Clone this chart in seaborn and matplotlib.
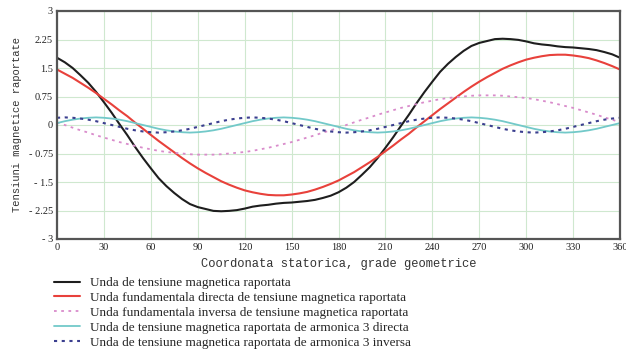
import matplotlib
matplotlib.use("Agg")
import matplotlib.pyplot as plt
import seaborn as sns

# ---- data (every 5 degrees) ----
deg = list(range(0, 361, 5))

total = [1.77, 1.65, 1.50, 1.31, 1.11, 0.87, 0.60, 0.32, 0.02, -0.27, -0.58, -0.87, -1.14,
         -1.40, -1.61, -1.79, -1.95, -2.08, -2.16, -2.21, -2.26, -2.27, -2.26, -2.24, -2.20,
         -2.15, -2.12, -2.10, -2.07, -2.05, -2.04, -2.02, -2.00, -1.97, -1.92, -1.86, -1.77,
         -1.65, -1.50, -1.31, -1.11, -0.87, -0.60, -0.32, -0.02, 0.27, 0.58, 0.87, 1.14,
         1.40, 1.61, 1.79, 1.95, 2.08, 2.16, 2.21, 2.26, 2.27, 2.26, 2.24, 2.20,
         2.15, 2.12, 2.10, 2.07, 2.05, 2.04, 2.02, 2.00, 1.97, 1.92, 1.86, 1.77]

fund_direct = [1.46, 1.35, 1.24, 1.11, 0.98, 0.84, 0.69, 0.54, 0.38, 0.23, 0.06, -0.10, -0.26,
               -0.42, -0.57, -0.72, -0.87, -1.01, -1.14, -1.26, -1.37, -1.48, -1.57, -1.65,
               -1.72, -1.77, -1.81, -1.84, -1.85, -1.85, -1.83, -1.80, -1.76, -1.70, -1.63,
               -1.55, -1.46, -1.35, -1.24, -1.11, -0.98, -0.84, -0.69, -0.54, -0.38, -0.23,
               -0.06, 0.10, 0.26, 0.42, 0.57, 0.72, 0.87, 1.01, 1.14, 1.26, 1.37, 1.48, 1.57,
               1.65, 1.72, 1.77, 1.81, 1.84, 1.85, 1.85, 1.83, 1.80, 1.76, 1.70, 1.63, 1.55, 1.46]

fund_inverse = [0.07, 0.00, -0.07, -0.14, -0.20, -0.27, -0.33, -0.39, -0.45, -0.50, -0.55, -0.60,
                -0.64, -0.68, -0.71, -0.73, -0.75, -0.77, -0.78, -0.78, -0.78, -0.77, -0.75,
                -0.73, -0.71, -0.68, -0.64, -0.60, -0.55, -0.50, -0.45, -0.39, -0.33, -0.27,
                -0.20, -0.14, -0.07, 0.00, 0.07, 0.14, 0.20, 0.27, 0.33, 0.39, 0.45, 0.50, 0.55,
                0.60, 0.64, 0.68, 0.71, 0.73, 0.75, 0.77, 0.78, 0.78, 0.78, 0.77, 0.75, 0.73,
                0.71, 0.68, 0.64, 0.60, 0.55, 0.50, 0.45, 0.39, 0.33, 0.27, 0.20, 0.14, 0.07]

harm3_direct = [0.05, 0.10, 0.14, 0.17, 0.19, 0.20, 0.19, 0.17, 0.14, 0.10, 0.05, 0.00,
                -0.05, -0.10, -0.14, -0.17, -0.19, -0.20, -0.19, -0.17, -0.14, -0.10, -0.05, 0.00,
                0.05, 0.10, 0.14, 0.17, 0.19, 0.20, 0.19, 0.17, 0.14, 0.10, 0.05, 0.00,
                -0.05, -0.10, -0.14, -0.17, -0.19, -0.20, -0.19, -0.17, -0.14, -0.10, -0.05, 0.00,
                0.05, 0.10, 0.14, 0.17, 0.19, 0.20, 0.19, 0.17, 0.14, 0.10, 0.05, 0.00,
                -0.05, -0.10, -0.14, -0.17, -0.19, -0.20, -0.19, -0.17, -0.14, -0.10, -0.05, 0.00,
                0.05]

harm3_inverse = [0.19, 0.20, 0.19, 0.17, 0.14, 0.10, 0.05, 0.00, -0.05, -0.10, -0.14, -0.17,
                 -0.19, -0.20, -0.19, -0.17, -0.14, -0.10, -0.05, 0.00, 0.05, 0.10, 0.14, 0.17,
                 0.19, 0.20, 0.19, 0.17, 0.14, 0.10, 0.05, 0.00, -0.05, -0.10, -0.14, -0.17,
                 -0.19, -0.20, -0.19, -0.17, -0.14, -0.10, -0.05, 0.00, 0.05, 0.10, 0.14, 0.17,
                 0.19, 0.20, 0.19, 0.17, 0.14, 0.10, 0.05, 0.00, -0.05, -0.10, -0.14, -0.17,
                 -0.19, -0.20, -0.19, -0.17, -0.14, -0.10, -0.05, 0.00, 0.05, 0.10, 0.14, 0.17,
                 0.19]

labels = ["Unda de tensiune magnetica raportata",
          "Unda fundamentala directa de tensiune magnetica raportata",
          "Unda fundamentala inversa de tensiune magnetica raportata",
          "Unda de tensiune magnetica raportata de armonica 3 directa",
          "Unda de tensiune magnetica raportata de armonica 3 inversa"]

x_ticks = [0, 30, 60, 90, 120, 150, 180, 210, 240, 270, 300, 330, 360]
y_ticks = [3, 2.25, 1.5, 0.75, 0, -0.75, -1.5, -2.25, -3]
y_tick_labels = ["3", "2.25", "1.5", "0.75", "0", "- 0.75", "- 1.5", "- 2.25", "- 3"]

x_label = "Coordonata statorica, grade geometrice"
y_label = "Tensiuni magnetice raportate"

# ---- styling ----
sns.set_theme(style="white")
plt.rcParams["font.family"] = ["Liberation Serif", "DejaVu Serif"]

fig = plt.figure(figsize=(6.26, 3.56), dpi=100)
ax = fig.add_axes([57 / 626, 1 - 239 / 356, (620 - 57) / 626, (239 - 11) / 356])

series = [total, fund_direct, fund_inverse, harm3_direct, harm3_inverse]
colors = ["#1e1e1e", "#e8413b", "#d98bcb", "#72c9c9", "#3b3f8f"]
styles = ["-", "-", (0, (1.5, 2.5)), "-", (0, (1.5, 2.2))]
widths = [1.5, 1.5, 1.3, 1.3, 1.5]

for lab, s, c, ls, lw in zip(labels, series, colors, styles, widths):
    sns.lineplot(x=deg, y=s, ax=ax, color=c, linestyle=ls, linewidth=lw, label=lab)

ax.set_xlim(0, 360)
ax.set_ylim(-3, 3)
ax.set_xticks(x_ticks)
ax.set_yticks(y_ticks, labels=y_tick_labels)
ax.grid(True, color="#cfe8cf", linewidth=0.8)
ax.tick_params(axis="both", length=0, pad=3, labelsize=7.5, colors="#222222")
for sp in ax.spines.values():
    sp.set_color("#555555")
    sp.set_linewidth(1.6)

ax.set_xlabel(x_label, family="Liberation Mono", fontsize=8.7, labelpad=4, color="#333333")
ax.set_ylabel(y_label, family="Liberation Mono", fontsize=7.6, labelpad=5, color="#333333")

handles, labs = ax.get_legend_handles_labels()
ax.legend_.remove()
fig.legend(handles, labs, loc="upper left", bbox_to_anchor=(54 / 626, 1 - 277 / 356),
           frameon=False, fontsize=9.5, handlelength=2.0, handletextpad=0.75,
           labelspacing=0.2, borderpad=0, borderaxespad=0)

fig.savefig("out.png", dpi=100, facecolor="white")
